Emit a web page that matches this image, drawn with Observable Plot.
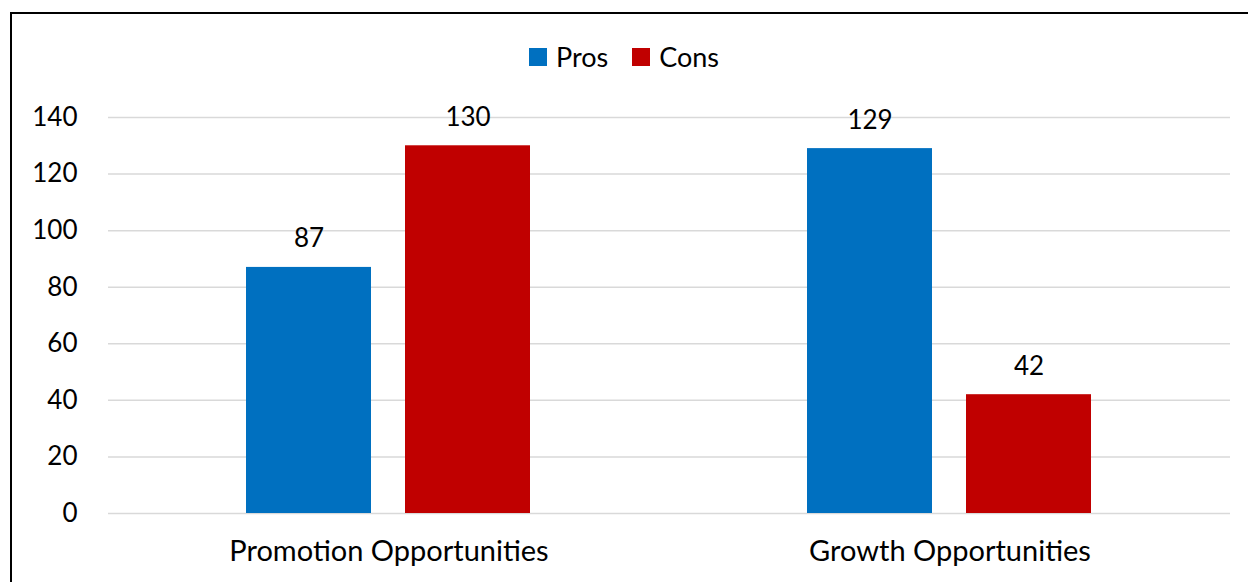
<!DOCTYPE html>
<html>
<head>
<meta charset="utf-8">
<script src="https://cdn.jsdelivr.net/npm/d3@7"></script>
<script src="https://cdn.jsdelivr.net/npm/@observablehq/plot@0.6"></script>
<style>
  html, body { margin: 0; padding: 0; background: #fff; }
  body { width: 1248px; height: 582px; overflow: hidden; position: relative; font-family: Lato, "Noto Sans", sans-serif; }
  #frame { position: absolute; left: 10px; top: 12px; width: 1300px; height: 700px; border-left: 2px solid #000; border-top: 2px solid #000; pointer-events: none; }
  #legend { position: absolute; left: 0; top: 0; width: 1248px; height: 90px; display: flex; justify-content: center; align-items: flex-start; padding-top: 40px; box-sizing: border-box; font-size: 27px; color: #000; }
  .item { display: flex; align-items: center; margin: 0 12px; }
  .sw { width: 18px; height: 18px; margin-right: 9px; }
  #chart { position: absolute; left: 0; top: 90px; }
</style>
</head>
<body>
<div id="legend"></div>
<div id="chart"></div>
<div id="frame"></div>
<script>
const categories = ["Promotion Opportunities", "Growth Opportunities"];
const seriesNames = ["Pros", "Cons"];
const prosValues = [87, 129];
const consValues = [130, 42];
const colors = ["#0070C0", "#C00000"];
const yTicks = [0, 20, 40, 60, 80, 100, 120, 140];

const data = [];
categories.forEach((c, i) => {
  data.push({category: c, series: "Pros", value: prosValues[i]});
  data.push({category: c, series: "Cons", value: consValues[i]});
});

const legend = document.getElementById("legend");
seriesNames.forEach((s, i) => {
  const it = document.createElement("div");
  it.className = "item";
  it.innerHTML = `<span class="sw" style="background:${colors[i]}"></span><span>${s}</span>`;
  legend.appendChild(it);
});

const chart = Plot.plot({
  width: 1248,
  height: 492,
  marginLeft: 107,
  marginRight: 18,
  marginTop: 27,
  marginBottom: 69,
  style: {fontFamily: "Lato, 'Noto Sans', sans-serif", fontSize: "26px", color: "#000", background: "transparent"},
  fx: {domain: categories, padding: 0, label: null},
  x: {domain: seriesNames, paddingInner: 0.2125, paddingOuter: 0.861, axis: null},
  y: {domain: [0, 140], ticks: yTicks, label: null},
  color: {domain: seriesNames, range: colors},
  marks: [
    Plot.gridY(yTicks, {stroke: "#d9d9d9", strokeOpacity: 1, strokeWidth: 1.5}),
    Plot.axisY(yTicks, {tickSize: 0, tickPadding: 31, fontSize: 26, label: null}),
    Plot.axisFx({anchor: "bottom", tickSize: 0, tickPadding: 27, fontSize: 29, label: null}),
    Plot.barY(data, {fx: "category", x: "series", y: "value", fill: "series"}),
    Plot.text(data, {fx: "category", x: "series", y: "value", text: d => String(d.value), dy: -20, lineAnchor: "bottom", fontSize: 26, fill: "#000"})
  ]
});
document.getElementById("chart").appendChild(chart);
</script>
</body>
</html>
